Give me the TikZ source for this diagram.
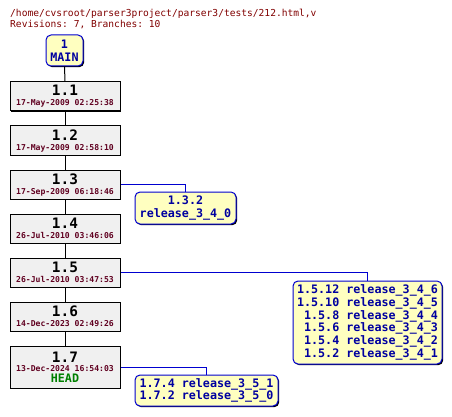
\documentclass[tikz,border=0pt]{standalone}
\usepackage{fontspec}
\setmonofont{DejaVu Sans Mono}
\usetikzlibrary{shadows}
\definecolor{titlecol}{RGB}{128,0,0}
\definecolor{datecol}{RGB}{96,0,32}
\definecolor{revfill}{RGB}{240,240,240}
\definecolor{tagfill}{RGB}{255,255,192}
\definecolor{tagtext}{RGB}{0,0,160}
\definecolor{tagline}{RGB}{0,0,208}
\definecolor{headcol}{RGB}{0,128,0}
\begin{document}
\begin{tikzpicture}[x=1pt,y=-1pt,
  revbox/.style={draw=black, fill=revfill, line width=1pt, minimum width=110pt, minimum height=29pt,
    inner sep=0pt, align=center, font=\ttfamily\bfseries\fontsize{8}{10}\selectfont,
    drop shadow={shadow xshift=1.2pt, shadow yshift=-1.2pt, opacity=1, fill=black}},
  tagbox/.style={draw=tagline, fill=tagfill, line width=1pt, rounded corners=5pt, inner sep=0pt,
    text=tagtext, font=\ttfamily\bfseries\fontsize{11.7}{12.8}\selectfont,
    drop shadow={shadow xshift=1.2pt, shadow yshift=-1.2pt, opacity=1, fill=black}},
  revno/.style={},
  trunk/.style={draw=black, line width=1pt},
  brline/.style={draw=tagline, line width=1pt}]
\useasboundingbox (0,0) rectangle (452,417);
\newcommand{\rn}[1]{{\fontsize{14.4}{14}\selectfont #1}}
\newcommand{\dt}[1]{{\color{datecol}\fontsize{8.1}{9}\selectfont\mdseries\bfseries #1}}

\node[anchor=base west, text=titlecol, font=\ttfamily\fontsize{9.6}{11}\selectfont, inner sep=0pt] (title1) at (10,17) {/home/cvsroot/parser3project/parser3/tests/212.html,v};
\node[anchor=base west, text=titlecol, font=\ttfamily\fontsize{9.6}{11}\selectfont, inner sep=0pt] (title2) at (10,28) {Revisions: 7, Branches: 10};

\node[tagbox, minimum width=37pt, minimum height=31pt, align=center, font=\ttfamily\bfseries\fontsize{11.7}{12.5}\selectfont] (main) at (64.5,50.5) {1\\MAIN};

\node[revbox] (r1) at (65,96.5) {\rn{1.1}\\\dt{17-May-2009 02:25:38}};
\node[revbox] (r2) at (65,140.5) {\rn{1.2}\\\dt{17-May-2009 02:58:10}};
\node[revbox] (r3) at (65,184.5) {\rn{1.3}\\\dt{17-Sep-2009 06:18:46}};
\node[revbox] (r4) at (65,228.5) {\rn{1.4}\\\dt{26-Jul-2010 03:46:06}};
\node[revbox] (r5) at (65,272.5) {\rn{1.5}\\\dt{26-Jul-2010 03:47:53}};
\node[revbox] (r6) at (65,316.5) {\rn{1.6}\\\dt{14-Dec-2023 02:49:26}};
\node[revbox, minimum height=42pt] (r7) at (65,367) {\rn{1.7}\\[-1pt]\dt{13-Dec-2024 16:54:03}\\[1pt]{\color{headcol}\fontsize{11.7}{12}\selectfont HEAD}};

\node[tagbox, minimum width=101pt, minimum height=32pt, align=center] (b3) at (185.5,208) {1.3.2\\release\_3\_4\_0};
\node[tagbox, minimum width=149pt, minimum height=83pt, align=right] (b5) at (367.5,322.5) {1.5.12 release\_3\_4\_6\\1.5.10 release\_3\_4\_5\\1.5.8 release\_3\_4\_4\\1.5.6 release\_3\_4\_3\\1.5.4 release\_3\_4\_2\\1.5.2 release\_3\_4\_1};
\node[tagbox, minimum width=143pt, minimum height=31pt, align=right] (b7) at (206.5,390.5) {1.7.4 release\_3\_5\_1\\1.7.2 release\_3\_5\_0};

\draw[trunk] (main.south) -- (r1.north);
\draw[trunk] (r1.south) -- (r2.north);
\draw[trunk] (r2.south) -- (r3.north);
\draw[trunk] (r3.south) -- (r4.north);
\draw[trunk] (r4.south) -- (r5.north);
\draw[trunk] (r5.south) -- (r6.north);
\draw[trunk] (r6.south) -- (r7.north);

\draw[brline] (r3.east) -| (b3.north);
\draw[brline] (r5.east) -| (b5.north);
\draw[brline] (r7.east) -| (b7.north);
\end{tikzpicture}
\end{document}
